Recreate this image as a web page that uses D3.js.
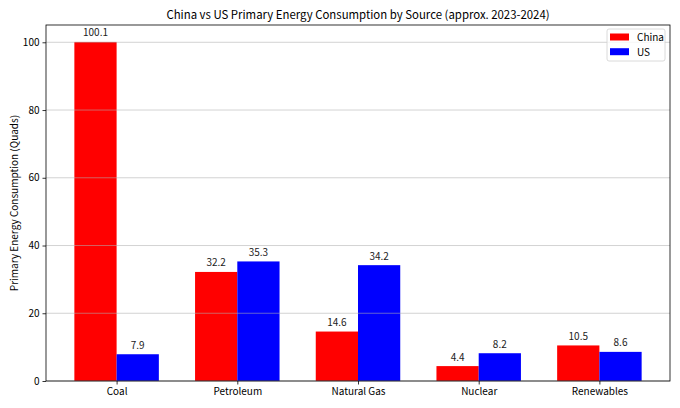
<!DOCTYPE html>
<html>
<head>
<meta charset="utf-8">
<script src="https://cdn.jsdelivr.net/npm/d3@7/dist/d3.min.js"></script>
<style>
  body { margin: 0; background: #fff; }
  svg { display: block; font-family: "Noto Sans CJK SC", "Noto Sans", sans-serif; }
</style>
</head>
<body>
<div id="chart"></div>
<script>
(function () {
  // data
  const categories = ["Coal", "Petroleum", "Natural Gas", "Nuclear", "Renewables"];
  const chinaValues = [100.1, 32.2, 14.6, 4.4, 10.5];
  const usValues = [7.9, 35.3, 34.2, 8.2, 8.6];
  const yTicks = [0, 20, 40, 60, 80, 100];
  const seriesNames = ["China", "US"];
  const seriesColors = ["#ff0000", "#0000ff"];

  // layout
  const width = 680, height = 408;
  const margin = { top: 25, right: 10, bottom: 27, left: 46 };
  const innerW = width - margin.left - margin.right;
  const innerH = height - margin.top - margin.bottom;
  const barW = 0.35;

  const svg = d3.select("#chart").append("svg")
    .attr("width", width)
    .attr("height", height);

  const g = svg.append("g")
    .attr("transform", `translate(${margin.left},${margin.top})`);

  const span = categories.length - 1 + 2 * barW;
  const x = d3.scaleLinear()
    .domain([-barW - 0.05 * span, categories.length - 1 + barW + 0.05 * span])
    .range([0, innerW]);

  const yMax = d3.max(chinaValues.concat(usValues)) * 1.05;
  const y = d3.scaleLinear().domain([0, yMax]).range([innerH, 0]);

  const series = [chinaValues, usValues];
  const offsets = [-barW / 2, barW / 2];

  // bars + value labels
  series.forEach((vals, s) => {
    g.selectAll(".bar-" + s)
      .data(vals)
      .enter()
      .append("rect")
      .attr("x", (d, i) => x(i + offsets[s] - barW / 2))
      .attr("width", x(barW) - x(0))
      .attr("y", d => y(d))
      .attr("height", d => y(0) - y(d))
      .attr("fill", seriesColors[s]);

    g.selectAll(".lab-" + s)
      .data(vals)
      .enter()
      .append("text")
      .attr("x", (d, i) => x(i + offsets[s]))
      .attr("y", d => y(d) - 5.5)
      .attr("text-anchor", "middle")
      .style("font-size", "10px")
      .style("fill", "#222")
      .text(d => d.toFixed(1));
  });

  // grid (on top of bars, faint)
  g.selectAll(".grid")
    .data(yTicks)
    .enter()
    .append("line")
    .attr("x1", 0).attr("x2", innerW)
    .attr("y1", d => y(d)).attr("y2", d => y(d))
    .attr("stroke", "#b0b0b0")
    .attr("stroke-opacity", 0.7)
    .attr("stroke-width", 0.8);

  // axes
  const yAxis = g.append("g")
    .call(d3.axisLeft(y).tickValues(yTicks).tickSize(3.5).tickPadding(3));
  const xAxis = g.append("g")
    .attr("transform", `translate(0,${innerH})`)
    .call(d3.axisBottom(x).tickValues(d3.range(categories.length))
      .tickFormat(i => categories[i]).tickSize(3.5).tickPadding(3));

  [xAxis, yAxis].forEach(a => {
    a.select(".domain").remove();
    a.selectAll("line").attr("stroke", "#000").attr("stroke-width", 0.8);
    a.selectAll("text").style("font-size", "10px").style("fill", "#000")
      .style("font-family", "\"Noto Sans CJK SC\", sans-serif");
  });

  // frame
  g.append("rect")
    .attr("width", innerW).attr("height", innerH)
    .attr("fill", "none")
    .attr("stroke", "#000")
    .attr("stroke-width", 0.8);

  // title
  svg.append("text")
    .attr("x", margin.left + innerW / 2)
    .attr("y", 19)
    .attr("text-anchor", "middle")
    .style("font-size", "11.4px")
    .style("fill", "#000")
    .text("China vs US Primary Energy Consumption by Source (approx. 2023-2024)");

  // y label
  svg.append("text")
    .attr("transform", `translate(18,${margin.top + innerH / 2}) rotate(-90)`)
    .attr("text-anchor", "middle")
    .style("font-size", "10px")
    .style("fill", "#000")
    .text("Primary Energy Consumption (Quads)");

  // legend
  const legend = svg.append("g")
    .attr("transform", `translate(${margin.left + innerW - 63},${margin.top + 4})`);
  legend.append("rect")
    .attr("width", 58).attr("height", 32)
    .attr("rx", 2)
    .attr("fill", "#fff")
    .attr("fill-opacity", 0.8)
    .attr("stroke", "#d0d0d0")
    .attr("stroke-width", 0.8);
  seriesNames.forEach((name, i) => {
    legend.append("rect")
      .attr("x", 3).attr("y", 4.5 + i * 14.7)
      .attr("width", 19).attr("height", 7)
      .attr("fill", seriesColors[i]);
    legend.append("text")
      .attr("x", 30).attr("y", 12 + i * 14.7)
      .style("font-size", "10px")
      .style("fill", "#000")
      .text(name);
  });
})();
</script>
</body>
</html>
